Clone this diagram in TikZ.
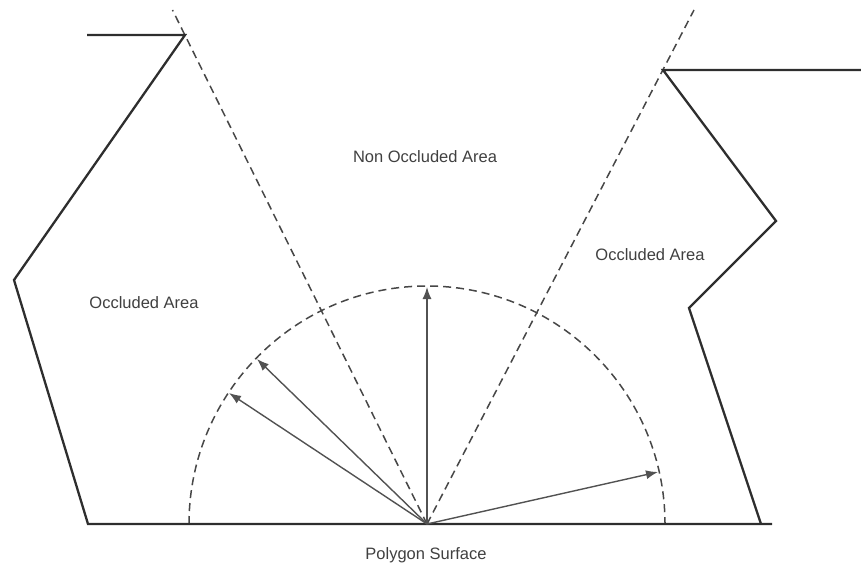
\documentclass[tikz,border=0pt]{standalone}
\usepackage{fontspec}
\setmainfont{Liberation Sans}
\usetikzlibrary{arrows.meta}
\begin{document}
\begin{tikzpicture}[x=1pt,y=-1pt,
  wall/.style={draw=black!82,line width=2.3pt,line join=miter},
  sight/.style={draw=black!72,line width=1.5pt,dash pattern=on 8pt off 5pt},
  ray/.style={draw=black!68,line width=1.4pt,-{Latex[length=12pt,width=9pt]}},
  lbl/.style={font=\fontsize{16.5}{19}\selectfont,text=black!75,inner sep=0pt}]
\useasboundingbox (0,0) rectangle (861,567);
% points
\coordinate (O) at (427,524);
\coordinate (L0) at (87,35);
\coordinate (L1) at (185,35);
\coordinate (L2) at (14,280);
\coordinate (L3) at (88,524);
\coordinate (R0) at (861,70);
\coordinate (R1) at (663,70);
\coordinate (R2) at (776,221);
\coordinate (R3) at (689,308);
\coordinate (R4) at (761,524);
\coordinate (B1) at (772,524);
\coordinate (DL) at (172.5,10);
\coordinate (DR) at (694,10);
% hemisphere
\draw[sight] (189,524) arc[start angle=180,end angle=360,radius=238];
% sight lines
\draw[sight] (O) -- (DL);
\draw[sight] (O) -- (DR);
% walls
\draw[wall] (L0) -- (L1) -- (L2) -- (L3) -- (B1);
\draw[wall] (R0) -- (R1) -- (R2) -- (R3) -- (R4);
% rays
\draw[ray] (O) -- ++(0,-237) coordinate (T1);
\draw[ray] (O) -- ++(-170,-165) coordinate (T2);
\draw[ray] (O) -- ++(-198,-131) coordinate (T3);
\draw[ray] (O) -- ++(231,-52) coordinate (T4);
% labels
\node[lbl] (noa) at (425,157) {Non Occluded Area};
\node[lbl] (oal) at (144,303) {Occluded Area};
\node[lbl] (oar) at (650,255) {Occluded Area};
\node[lbl,anchor=base] (ps) at (426,559) {Polygon Surface};
\end{tikzpicture}
\end{document}
